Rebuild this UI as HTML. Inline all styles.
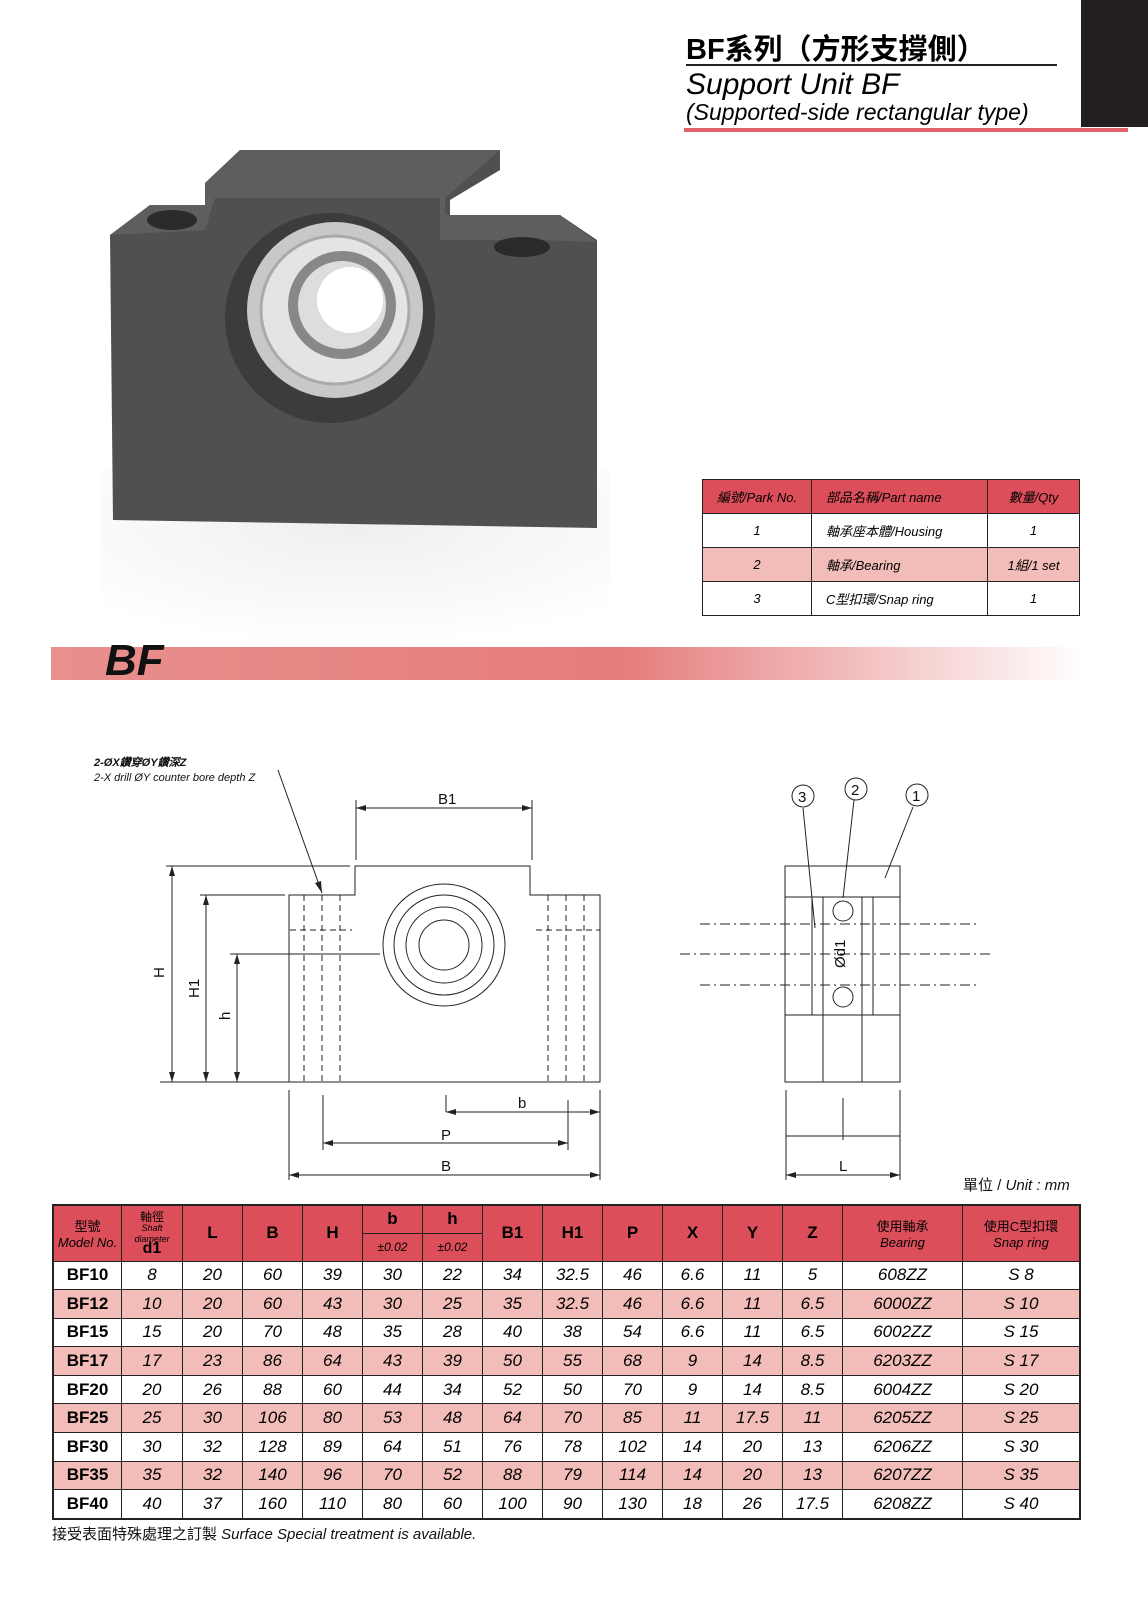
<!DOCTYPE html>
<html><head><meta charset="utf-8"><style>
body{margin:0;background:#fff;}
#p{position:relative;width:1148px;height:1598px;overflow:hidden;font-family:"Liberation Sans","Noto Sans CJK TC",sans-serif;}
.a{position:absolute;}
table{border-collapse:collapse;position:absolute;}
#t td{border:1px solid #222;text-align:center;font-style:italic;font-size:17px;padding:0;height:27.6px;}
#t td.m{font-style:normal;font-weight:bold;}
#t tr.k td{background:#f2bcb8;}
#t th{background:#dc4f5a;border:1px solid #222;font-weight:bold;font-size:17px;padding:0;}
#q td{border:1px solid #222;text-align:center;font-style:italic;font-size:13px;height:33px;padding:0;}
</style></head><body><div id="p">
<div class="a" style="left:1081px;top:0;width:67px;height:127px;background:#231f20"></div>
<div class="a" style="left:686px;top:26px;font-size:29px;font-weight:bold;">BF系列（方形支撐側）</div>
<div class="a" style="left:686px;top:64px;width:371px;height:2px;background:#222"></div>
<div class="a" style="left:686px;top:68px;font-size:30px;font-style:italic;">Support Unit BF</div>
<div class="a" style="left:686px;top:99px;font-size:23px;font-style:italic;">(Supported-side rectangular type)</div>
<div class="a" style="left:684px;top:128px;width:444px;height:4px;background:#e0606a"></div>

<svg class="a" style="left:0;top:0" width="1148" height="1598">
<defs><radialGradient id="sh" cx="0.5" cy="0.3" r="0.7"><stop offset="0" stop-color="#eeeeee"/><stop offset="1" stop-color="#fff"/></radialGradient>
<linearGradient id="bar" x1="0" x2="1"><stop offset="0" stop-color="#e8908e"/><stop offset="0.55" stop-color="#e57c7c"/><stop offset="1" stop-color="#fff"/></linearGradient></defs>
<rect x="100" y="470" width="510" height="175" fill="url(#sh)"/>
<polygon points="110,235 150,205 205,205 205,183 240,150 500,150 500,170 450,200 450,215 560,215 597,240 597,528 113,520" fill="#505052"/>
<polygon points="110,235 150,205 205,205 205,183 240,150 500,150 445,198 445,215 560,215 597,242 540,240 440,240 440,198 215,198 205,230" fill="#5e5e60"/>
<ellipse cx="172" cy="220" rx="25" ry="10" fill="#2a2a2a"/><ellipse cx="522" cy="247" rx="28" ry="10" fill="#2a2a2a"/>
<circle cx="330" cy="318" r="105" fill="#3c3c3e"/>
<circle cx="335" cy="310" r="88" fill="#c8c8c8"/><circle cx="335" cy="310" r="74" fill="#e4e4e4" stroke="#aaa" stroke-width="3"/>
<circle cx="342" cy="305" r="54" fill="#888"/><circle cx="342" cy="305" r="44" fill="#ddd"/><circle cx="350" cy="300" r="33" fill="#fff"/>
<rect x="51" y="647" width="1034" height="33" fill="url(#bar)"/>
<text x="105" y="675" font-size="44" font-weight="bold" font-style="italic" fill="#111" font-family="Liberation Sans">BF</text>

<g stroke="#222" stroke-width="1" fill="none">
<path d="M289,895 H355 V866 H530 V895 H600 V1082 H289 Z"/>
<circle cx="444" cy="945" r="61"/><circle cx="444" cy="945" r="50"/><circle cx="444" cy="945" r="38"/><circle cx="444" cy="945" r="25"/>
<g stroke-dasharray="6,4"><path d="M304,895 V1082 M340,895 V1082 M322,895 V1082 M548,895 V1082 M584,895 V1082 M566,895 V1082 M290,930 H352 M536,930 H600"/></g>
<path d="M166,866 H350 M200,895 H285 M230,954 H380 M172,866 V1082 M206,895 V1082 M237,954 V1082 M160,1082 H290"/>
<path d="M356,800 V860 M532,800 V860 M356,808 H532 M446,1095 V1112 M323,1095 V1150 M600,1090 V1180 M289,1090 V1180 M446,1112 H600 M323,1143 H568 M289,1175 H600 M568,1100 V1150"/>
<path d="M278,770 L322,893"/>
<rect x="785" y="866" width="115" height="216"/>
<path d="M785,897 H900 M785,1015 H900 M823,897 V1082 M862,897 V1082 M812,897 V1015 M873,897 V1015"/>
<path d="M700,924 H977 M700,985 H977 M680,954 H990" stroke-dasharray="10,4,2,4"/>
<circle cx="843" cy="911" r="10"/><circle cx="843" cy="997" r="10"/>
<path d="M786,1090 V1180 M900,1090 V1180 M786,1136 H900 M786,1175 H900 M843,1098 V1140"/>
<path d="M803,808 L815,928 M854,800 L843,898 M913,807 L885,878"/>
</g>
<g fill="#222"><polygon points="356,808 366,805 366,811"/><polygon points="532,808 522,805 522,811"/>
<polygon points="600,1112 590,1109 590,1115"/><polygon points="446,1112 456,1109 456,1115"/>
<polygon points="323,1143 333,1140 333,1146"/><polygon points="568,1143 558,1140 558,1146"/>
<polygon points="289,1175 299,1172 299,1178"/><polygon points="600,1175 590,1172 590,1178"/>
<polygon points="786,1175 796,1172 796,1178"/><polygon points="900,1175 890,1172 890,1178"/>
<polygon points="172,866 169,876 175,876"/><polygon points="172,1082 169,1072 175,1072"/>
<polygon points="206,895 203,905 209,905"/><polygon points="206,1082 203,1072 209,1072"/>
<polygon points="237,954 234,964 240,964"/><polygon points="237,1082 234,1072 240,1072"/>
<polygon points="322,893 315,883 321,881"/></g>
<g font-family="Liberation Sans" font-size="15" fill="#111">
<text x="438" y="804">B1</text><text x="518" y="1108">b</text><text x="441" y="1140">P</text><text x="441" y="1171">B</text><text x="839" y="1171">L</text>
<text x="164" y="978" transform="rotate(-90 164 978)">H</text><text x="199" y="998" transform="rotate(-90 199 998)">H1</text><text x="230" y="1020" transform="rotate(-90 230 1020)">h</text>
<text x="845" y="968" transform="rotate(-90 845 968)">Ød1</text>
<circle cx="803" cy="796" r="11" fill="none" stroke="#222"/><text x="798" y="802">3</text>
<circle cx="856" cy="789" r="11" fill="none" stroke="#222"/><text x="851" y="795">2</text>
<circle cx="917" cy="795" r="11" fill="none" stroke="#222"/><text x="912" y="801">1</text>
<text x="94" y="766" font-size="11" font-style="italic" font-weight="bold">2-ØX鑽穿ØY鑽深Z</text>
<text x="94" y="781" font-size="11" font-style="italic">2-X drill ØY counter bore depth Z</text>
<text x="963" y="1190" font-size="15">單位 / <tspan font-style="italic">Unit : mm</tspan></text>
<text x="52" y="1539" font-size="15">接受表面特殊處理之訂製 <tspan font-style="italic">Surface Special treatment is available.</tspan></text>
</g></svg>

<table id="q" style="left:702px;top:479px;width:378px;">
<tr style="background:#dc4f5a"><td style="width:108px">編號/Park No.</td><td style="text-align:left;padding-left:14px">部品名稱/Part name</td><td style="width:91px">數量/Qty</td></tr>
<tr><td>1</td><td style="text-align:left;padding-left:14px">軸承座本體/Housing</td><td>1</td></tr>
<tr style="background:#f2bcb8"><td>2</td><td style="text-align:left;padding-left:14px">軸承/Bearing</td><td>1組/1 set</td></tr>
<tr><td>3</td><td style="text-align:left;padding-left:14px">C型扣環/Snap ring</td><td>1</td></tr>
</table>

<table id="t" style="left:52px;top:1204px;width:1029px;border:2px solid #222">
<tr style="height:28px"><th rowspan="2" style="width:67px;font-weight:normal;font-size:13px">型號<br><i>Model No.</i></th><th rowspan="2" style="width:60px;font-size:12px;font-weight:normal;line-height:10px">軸徑<br><i style="font-size:9px">Shaft<br>diameter</i><br><b style="font-size:16px">d1</b></th><th rowspan="2" style="width:59px">L</th><th rowspan="2" style="width:59px">B</th><th rowspan="2" style="width:59px">H</th><th style="width:59px">b</th><th style="width:59px">h</th><th rowspan="2" style="width:59px">B1</th><th rowspan="2" style="width:59px">H1</th><th rowspan="2" style="width:59px">P</th><th rowspan="2" style="width:59px">X</th><th rowspan="2" style="width:59px">Y</th><th rowspan="2" style="width:59px">Z</th><th rowspan="2" style="width:119px;font-weight:normal;font-size:13px">使用軸承<br><i>Bearing</i></th><th rowspan="2" style="font-weight:normal;font-size:13px">使用C型扣環<br><i>Snap ring</i></th></tr>
<tr style="height:28px"><th style="font-weight:normal;font-style:italic;font-size:12px">±0.02</th><th style="font-weight:normal;font-style:italic;font-size:12px">±0.02</th></tr>
<tr><td class="m">BF10</td><td>8</td><td>20</td><td>60</td><td>39</td><td>30</td><td>22</td><td>34</td><td>32.5</td><td>46</td><td>6.6</td><td>11</td><td>5</td><td>608ZZ</td><td>S 8</td></tr>
<tr class="k"><td class="m">BF12</td><td>10</td><td>20</td><td>60</td><td>43</td><td>30</td><td>25</td><td>35</td><td>32.5</td><td>46</td><td>6.6</td><td>11</td><td>6.5</td><td>6000ZZ</td><td>S 10</td></tr>
<tr><td class="m">BF15</td><td>15</td><td>20</td><td>70</td><td>48</td><td>35</td><td>28</td><td>40</td><td>38</td><td>54</td><td>6.6</td><td>11</td><td>6.5</td><td>6002ZZ</td><td>S 15</td></tr>
<tr class="k"><td class="m">BF17</td><td>17</td><td>23</td><td>86</td><td>64</td><td>43</td><td>39</td><td>50</td><td>55</td><td>68</td><td>9</td><td>14</td><td>8.5</td><td>6203ZZ</td><td>S 17</td></tr>
<tr><td class="m">BF20</td><td>20</td><td>26</td><td>88</td><td>60</td><td>44</td><td>34</td><td>52</td><td>50</td><td>70</td><td>9</td><td>14</td><td>8.5</td><td>6004ZZ</td><td>S 20</td></tr>
<tr class="k"><td class="m">BF25</td><td>25</td><td>30</td><td>106</td><td>80</td><td>53</td><td>48</td><td>64</td><td>70</td><td>85</td><td>11</td><td>17.5</td><td>11</td><td>6205ZZ</td><td>S 25</td></tr>
<tr><td class="m">BF30</td><td>30</td><td>32</td><td>128</td><td>89</td><td>64</td><td>51</td><td>76</td><td>78</td><td>102</td><td>14</td><td>20</td><td>13</td><td>6206ZZ</td><td>S 30</td></tr>
<tr class="k"><td class="m">BF35</td><td>35</td><td>32</td><td>140</td><td>96</td><td>70</td><td>52</td><td>88</td><td>79</td><td>114</td><td>14</td><td>20</td><td>13</td><td>6207ZZ</td><td>S 35</td></tr>
<tr><td class="m">BF40</td><td>40</td><td>37</td><td>160</td><td>110</td><td>80</td><td>60</td><td>100</td><td>90</td><td>130</td><td>18</td><td>26</td><td>17.5</td><td>6208ZZ</td><td>S 40</td></tr>
</table>
</div></body></html>
